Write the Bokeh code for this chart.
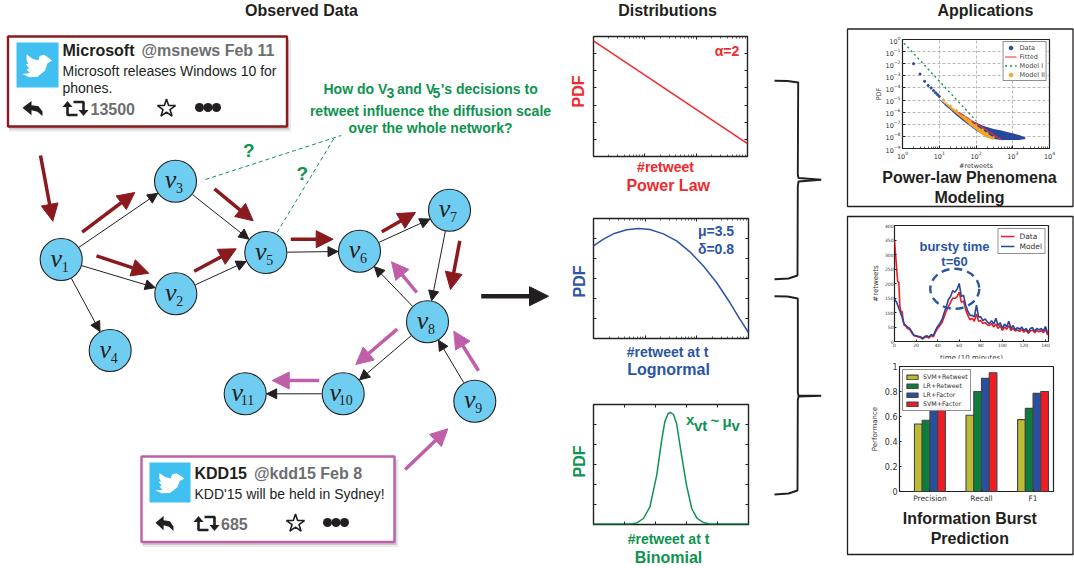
from math import pi, hypot
from bokeh.plotting import figure
from bokeh.models import (Range1d, ColumnDataSource, Arrow, NormalHead, Legend, LegendItem, LogAxis, LinearAxis,
                          FixedTicker, Column, LogTicker)
from bokeh.core.properties import value
from bokeh.embed import file_html
from bokeh.resources import INLINE

# ---------- chart data ----------
power_x = [1, 1000]
power_y = [0.56, 5.6e-7]
logn_x = [1, 1.56, 2.43, 4.4, 7.4, 12.4, 22.5, 40.6, 73.6, 133, 241, 436, 680, 1000]
logn_y = [0.043, 0.0926, 0.171, 0.271, 0.316, 0.282, 0.171, 0.0764, 0.0215, 0.0043, 6.3e-4, 6.3e-5, 9.3e-6, 2e-6]
bino_x = [0, 11.8, 14, 16.1, 18.2, 20.4, 22, 23, 24.1, 24.9, 25.8, 26.8, 28.4, 30, 31.7, 33.3, 35.4, 37.6, 50]
bino_y = [.003, .003, .008, .03, .088, .247, .422, .513, .555, .56, .55, .505, .347, .197, .08, .033, .01, .003, .003]

ll_points_x = [2, 3, 4, 5, 6, 7, 8, 9, 10]
ll_points_y = [1e-2, 1.4e-3, 3.5e-4, 1.6e-4, 1e-4, 6e-5, 4e-5, 2.8e-5, 2e-5]
ll_band_x = [10, 15, 20, 30, 50, 70, 100, 150, 200, 300, 500, 700, 1000, 1500, 2200]
ll_band_hi = [1.3e-5, 4.5e-6, 2.2e-6, 8e-7, 3e-7, 2e-7, 1.4e-7, 8e-8, 6e-8, 4e-8, 3e-8, 2.3e-8, 1.8e-8, 1.3e-8, 8e-9]
ll_band_lo = [1.1e-5, 3.2e-6, 1.6e-6, 5e-7, 1.5e-7, 7e-8, 3e-8, 1.4e-8, 8e-9, 6e-9, 5e-9, 5e-9, 5e-9, 5e-9, 6e-9]
model2_x = [13, 20, 30, 50, 70, 100, 150, 200, 300]
model2_hi = [1e-5, 3.2e-6, 1.3e-6, 4e-7, 2e-7, 8e-8, 3.5e-8, 1.8e-8, 8e-9]
model2_lo = [8e-6, 2e-6, 7e-7, 2e-7, 8e-8, 3.5e-8, 1.3e-8, 8e-9, 5e-9]
fitted_x = [34, 500]
fitted_y = [1e-6, 5e-9]
model1_x = [1.1, 100]
model1_y = [0.5, 2e-7]

ts_t = [0, 1, 2, 3, 4, 5, 6, 7, 8, 9] + list(range(10, 143, 2))
ts_data = [350, 300, 250, 205, 205, 120, 100, 105, 75, 55,
           55, 45, 42, 30, 20, 18, 16, 14, 8, 14, 16, 12, 20, 16, 32, 45, 55, 65, 85, 105, 120, 135, 150, 148, 155, 170,
           135, 140, 110, 90, 75, 80, 70, 95, 70, 72, 62, 65, 58, 55, 62, 50, 60, 45, 55, 38, 50, 42, 55, 38, 45, 36, 40,
           35, 42, 32, 40, 28, 36, 40, 30, 38, 33, 38, 30, 42, 22]
ts_model = [150, 140, 135, 125, 115, 105, 95, 85, 70, 60,
            58, 50, 46, 34, 22, 20, 18, 17, 10, 17, 20, 15, 24, 20, 38, 52, 62, 75, 98, 120, 145, 155, 175, 170, 180, 200,
            155, 160, 125, 105, 90, 90, 85, 125, 85, 85, 72, 78, 68, 62, 72, 60, 80, 55, 65, 45, 60, 50, 70, 45, 55, 40, 48,
            42, 50, 38, 45, 32, 45, 48, 35, 45, 40, 45, 36, 52, 28]

bar_labels = ["Precision", "Recall", "F1"]
bar_names = ["SVM+Retweet", "LR+Retweet", "LR+Factor", "SVM+Factor"]
bar_values = [[.54, .61, .575], [.57, .80, .665], [.72, .905, .785], [.75, .95, .80]]
bar_colors = ["#bdbb33", "#0b7e3e", "#2b4f9f", "#ee1c25"]

# graph
node_labels = ["1", "2", "3", "4", "5", "6", "7", "8", "9", "10", "11"]
node_x = [60.7, 175.3, 175, 109.7, 265.3, 359, 449, 427, 474.3, 342.7, 244.7]
node_y = [259, 293.3, 180.7, 350, 252, 250.7, 209.7, 321.3, 400.7, 393.3, 393.3]
edges = [(0, 2), (0, 1), (0, 3), (2, 4), (1, 4), (4, 5), (5, 6), (6, 7), (7, 5), (7, 9), (9, 10), (8, 7)]
red_arrows = [(40, 155, 52.3, 220.7), (81.7, 231.7, 134.3, 192), (96, 255.3, 148.3, 272.7), (193.7, 270.7, 235.7, 248.3),
              (214, 188.3, 252.7, 220.3), (290.3, 238.7, 332.7, 238.7), (381.3, 231.3, 415, 212), (459.3, 240.3, 450, 289)]
pink_arrows = [(416.3, 292, 391, 261.3), (396.7, 328.7, 355.3, 364), (318.7, 380, 271.7, 380), (478, 370.3, 453.3, 330.7),
               (404.7, 469, 447.3, 428.3)]

DARK = "#231f20"; RED = "#ee2a2e"; BLUE = "#2b55a4"; GREEN = "#0e9350"
WINE = "#8b1a1e"; PINK = "#c05ea8"; SKY = "#6fcdf2"; TW = "#3fc0f0"; GREY = "#6d6e71"
SANS = value("Liberation Sans")
SERIF = value("Liberation Serif")
VERA = "DejaVu Sans"
W, H = 1074, 568


def place(f, left, top, cursor):
    """Top margin puts the figure at an absolute page position inside the column."""
    f.margin = (top - cursor, 0, 0, left)
    f.frame_align = False
    return top + f.height


def style_axis(ax, labels=True, size="6px", width=1.0, tick=3):
    ax.major_tick_in = tick; ax.major_tick_out = 0
    ax.minor_tick_in = 2; ax.minor_tick_out = 0
    ax.axis_line_color = None
    ax.major_tick_line_color = "#222222"; ax.minor_tick_line_color = "#222222"
    ax.major_tick_line_width = width; ax.minor_tick_line_width = 0.7
    ax.major_label_standoff = 2
    if labels:
        ax.major_label_text_font_size = size
        ax.major_label_text_font = VERA
        ax.major_label_text_color = "#333333"
    else:
        ax.major_label_text_font_size = "1px"
        ax.major_label_text_color = None
        ax.major_label_standoff = 0


def dist_fig(xr, yr, xlog, ylog, fw, fh, xticks=None, yticks=None):
    f = figure(width=fw + 12, height=fh + 12, x_range=Range1d(*xr), y_range=Range1d(*yr),
               x_axis_type="log" if xlog else "linear", y_axis_type="log" if ylog else "linear",
               output_backend="svg", toolbar_location=None, min_border_left=6, min_border_right=6,
               min_border_top=6, min_border_bottom=6)
    f.grid.visible = False
    f.outline_line_color = "#222222"; f.outline_line_width = 1.4
    f.add_layout((LogAxis if ylog else LinearAxis)(), "right")
    f.add_layout((LogAxis if xlog else LinearAxis)(), "above")
    for ax in f.axis:
        style_axis(ax, labels=False, tick=3)
    for ax in f.xaxis:
        ax.ticker = LogTicker(num_minor_ticks=10, desired_num_ticks=3) if xlog else FixedTicker(ticks=xticks)
    for ax in f.yaxis:
        ax.ticker = LogTicker(num_minor_ticks=0, desired_num_ticks=8) if ylog else FixedTicker(ticks=yticks)
    return f


subs = []
# Distribution plots
d1 = dist_fig((1, 1000), (1e-7, 1), True, True, 154, 120)
d1.line(power_x, power_y, line_color=RED, line_width=1.5)
d2 = dist_fig((1, 1000), (1e-6, 1), True, True, 155, 120)
d2.line(logn_x, logn_y, line_color=BLUE, line_width=1.5)
d3 = dist_fig((0, 50), (0, 0.6), False, False, 155, 120, xticks=[10, 20, 30, 40], yticks=[.1, .2, .3, .4, .5])
d3.line(bino_x, bino_y, line_color=GREEN, line_width=1.5)

# Power-law log-log plot
pl = figure(width=222, height=142, x_range=Range1d(1, 10000), y_range=Range1d(1e-9, 1),
            x_axis_type="log", y_axis_type="log", output_backend="svg", toolbar_location=None,
            min_border_left=53, min_border_right=22, min_border_top=9, min_border_bottom=22)
pl.outline_line_color = "#222222"; pl.outline_line_width = 1.2
pl.grid.grid_line_color = "#999999"; pl.grid.grid_line_dash = "3 2"; pl.grid.grid_line_width = 0.7
pl.grid.minor_grid_line_color = None
for ax in pl.axis:
    style_axis(ax, size="6.5px")
pl.xaxis.ticker = LogTicker(num_minor_ticks=10, desired_num_ticks=5)
pl.yaxis.ticker = LogTicker(num_minor_ticks=0, desired_num_ticks=10)
pl.xaxis.axis_label = "#retweets"; pl.yaxis.axis_label = "PDF"
for ax in pl.axis:
    ax.axis_label_text_font = VERA; ax.axis_label_text_font_size = "6.5px"; ax.axis_label_text_font_style = "normal"
    ax.axis_label_text_color = "#333333"; ax.axis_label_standoff = 0
pl.varea(ll_band_x, ll_band_lo, ll_band_hi, fill_color="#27479b")
pl.varea(model2_x, model2_lo, model2_hi, fill_color="#f5a623")
r_data = pl.scatter(ll_points_x, ll_points_y, size=2.2, color="#27479b")
r_fit = pl.line(fitted_x, fitted_y, line_color="#e8303a", line_width=1.2)
r_m1 = pl.line(model1_x, model1_y, line_color=GREEN, line_width=1.4, line_dash="2 3")
r_m2 = pl.scatter(model2_x, model2_hi, size=2, color="#f5a623")
pl.add_layout(Legend(items=[LegendItem(label="Data", renderers=[r_data]), LegendItem(label="Fitted", renderers=[r_fit]),
                            LegendItem(label="Model I", renderers=[r_m1]), LegendItem(label="Model II", renderers=[r_m2])],
                     location="top_right", margin=2, padding=1, spacing=0, label_text_font=VERA, label_text_font_size="6.5px",
                     label_height=9, glyph_height=9, glyph_width=12, label_standoff=3, border_line_color="#222222",
                     border_line_width=1, label_text_color="#444444"), "center")

# Burst time series
ts = figure(width=222, height=146, x_range=Range1d(0, 142.8), y_range=Range1d(0, 400),
            output_backend="svg", toolbar_location=None,
            min_border_left=45, min_border_right=23, min_border_top=7, min_border_bottom=20)
ts.grid.visible = False
ts.outline_line_color = "#222222"; ts.outline_line_width = 1.2
for ax in ts.axis:
    style_axis(ax, size="4.5px", tick=2)
    ax.major_label_standoff = 1
ts.xaxis.ticker = FixedTicker(ticks=list(range(0, 141, 20)))
ts.yaxis.ticker = FixedTicker(ticks=list(range(0, 401, 50)))
ts.xaxis.axis_label = "time (10 minutes)"; ts.yaxis.axis_label = "#retweets"
for ax in ts.axis:
    ax.axis_label_text_font = VERA; ax.axis_label_text_font_size = "7px"; ax.axis_label_text_font_style = "normal"
    ax.axis_label_text_color = "#333333"; ax.axis_label_standoff = 4
ts.yaxis.axis_label_standoff = 2
r_td = ts.line(ts_t, ts_data, line_color="#ed1c24", line_width=1.6)
r_tm = ts.line(ts_t, ts_model, line_color="#27479b", line_width=1.6)
ts.add_layout(Legend(items=[LegendItem(label="Data", renderers=[r_td]), LegendItem(label="Model", renderers=[r_tm])],
                     location="top_right", margin=3, padding=2, spacing=0, label_text_font=VERA, label_text_font_size="7.5px",
                     label_height=10, glyph_height=10, glyph_width=14, label_standoff=5, border_line_color="#222222",
                     border_line_width=1, label_text_color="#333333"), "center")

# Bars
bp = figure(width=222, height=147, x_range=Range1d(-0.59, 2.397), y_range=Range1d(0, 1),
            output_backend="svg", toolbar_location=None,
            min_border_left=50, min_border_right=18, min_border_top=8, min_border_bottom=13)
bp.grid.visible = False
bp.outline_line_color = "#222222"; bp.outline_line_width = 1.2
for ax in bp.axis:
    style_axis(ax, size="7.5px", tick=2)
bp.yaxis.major_label_text_font_size = "8px"
bp.xaxis.ticker = FixedTicker(ticks=[0, 1, 2])
bp.xaxis.major_label_overrides = {i: s for i, s in enumerate(bar_labels)}
bp.yaxis.ticker = FixedTicker(ticks=[0, .2, .4, .6, .8, 1.0])
bp.yaxis.axis_label = "Performance"
bp.yaxis.axis_label_text_font = VERA; bp.yaxis.axis_label_text_font_size = "7px"
bp.yaxis.axis_label_text_font_style = "normal"; bp.yaxis.axis_label_text_color = "#333333"; bp.yaxis.axis_label_standoff = 3
items = []
for i, name in enumerate(bar_names):
    r = bp.vbar(x=[k + (i - 1.5) * 0.15 for k in range(3)], top=bar_values[i], width=0.15, fill_color=bar_colors[i],
                line_color="#444444", line_width=1.1)
    items.append(LegendItem(label=name, renderers=[r]))
bp.add_layout(Legend(items=items, location="top_left", margin=3, padding=2, spacing=0, label_text_font=VERA,
                     label_text_font_size="6.3px", label_height=9, glyph_height=6, glyph_width=14, label_standoff=4,
                     border_line_color="#222222", border_line_width=1, label_text_color="#333333"), "center")

# ---------- overlay in page pixels ----------
p = figure(width=W, height=H, x_range=Range1d(0, W), y_range=Range1d(H, 0), x_axis_type=None, y_axis_type=None,
           output_backend="svg", toolbar_location=None, min_border=0,
           background_fill_color=None, border_fill_color=None, outline_line_color=None)
p.grid.visible = False


def t(x, y, s, size=14, color=DARK, bold=True, align="center", base="middle", angle=0, font=SANS, italic=False):
    style = "bold" if bold else ("italic" if italic else "normal")
    p.text([x], [y], text=[s], text_font=font, text_font_size=f"{size}px", text_color=color, text_font_style=style,
           text_align=align, text_baseline=base, angle=angle)


def arrows(rows, color, lw, head):
    src = ColumnDataSource(dict(xs=[r[0] for r in rows], ys=[r[1] for r in rows], xe=[r[2] for r in rows], ye=[r[3] for r in rows]))
    p.add_layout(Arrow(end=NormalHead(size=head, fill_color=color, line_color=color, line_width=1), line_color=color,
                       line_width=lw, x_start="xs", y_start="ys", x_end="xe", y_end="ye", source=src))


# headers
t(301, 10, "Observed Data", 16); t(667, 10, "Distributions", 16); t(985, 10, "Applications", 16)

# question
t(323, 88, "How do V", 14, GREEN, align="left"); t(386, 92.5, "3", 14, GREEN, align="left")
t(396.5, 88, "and V", 14, GREEN, align="left"); t(432, 92.5, "5", 14, GREEN, align="left")
t(440.5, 88, "'s decisions to", 14, GREEN, align="left")
t(430, 110, "retweet influence the diffusion scale", 14, GREEN)
t(430, 127.5, "over the whole network?", 14, GREEN)
p.line([205, 340.7], [179, 135], line_color=GREEN, line_width=1, line_dash="4 3")
p.line([276.7, 333.3], [231.7, 138.3], line_color=GREEN, line_width=1, line_dash="4 3")
t(248.3, 150, "?", 19, GREEN); t(301.7, 172.5, "?", 19, GREEN)

# edges
rows = []
R = 21.5
for a, b in edges:
    dx, dy = node_x[b] - node_x[a], node_y[b] - node_y[a]
    d = hypot(dx, dy)
    rows.append((node_x[a] + dx / d * R, node_y[a] + dy / d * R, node_x[b] - dx / d * R, node_y[b] - dy / d * R))
arrows(rows, "#231f20", 1.0, 10)
arrows(red_arrows, WINE, 3.5, 17)
arrows(pink_arrows, PINK, 3.5, 17)
arrows([(480.7, 295.7, 548, 295.7)], "#231f20", 4.5, 19)

p.circle(node_x, node_y, radius=21, fill_color=SKY, line_color="#231f20", line_width=1.1)
for x, y, lab in zip(node_x, node_y, node_labels):
    single = len(lab) == 1
    t(x - 5 if single else x - 8, y - 1.5, "v", 26, "#231f20", bold=False, italic=True, font=SERIF)
    t(x + 0.5 if single else x - 4.5, y + 7 if single else y + 6.5, lab, 14, "#231f20", bold=False, align="left", font=SERIF)

BIRD = [(.85, .40), (.66, .27), (.55, .30), (.52, .40), (.38, .36), (.24, .26), (.24, .40), (.28, .48), (.22, .48), (.30, .58),
        (.24, .60), (.32, .68), (.14, .70), (.30, .77), (.50, .76), (.68, .62), (.74, .46)]
REPLY = [(0, .45), (.45, 0), (.45, .28), (.8, .35), (1, .7), (1, 1), (.75, .72), (.45, .62), (.45, .95)]


def rect(x0, y0, x1, y1, **kw):
    p.quad(left=[x0], right=[x1], top=[y0], bottom=[y1], **kw)


def tweet(x0, y0, x1, y1, border, bx0, by0, bx1, by1, name, handle, hx, tx, ty, lines, iy, rx, rw, rtx, cnt, cx, sx, dx):
    for off, alpha in ((5, .12), (3, .22)):
        rect(x0 + 1, y0 + 3, x1 + off - 1, y1 + off, fill_color="#555555", fill_alpha=alpha, line_color=None)
    rect(x0, y0, x1, y1, fill_color="white", line_color=border, line_width=2.4)
    rect(bx0, by0, bx1, by1, fill_color=TW, line_color=None)
    s = bx1 - bx0
    p.patch([bx0 + a * s for a, _ in BIRD], [by0 + b * (by1 - by0) for _, b in BIRD], fill_color="white", line_color=None)
    t(tx, ty, name, 16, "#231f20", align="left")
    t(hx, ty, handle, 16, GREY, align="left")
    for i, (ln, ly) in enumerate(lines):
        t(tx, ly, ln, 14, "#231f20", bold=False, align="left")
    # reply
    p.patch([rx + a * rw for a, _ in REPLY], [iy - 7.5 + b * 15 for _, b in REPLY], fill_color="#231f20", line_color=None)
    # retweet
    w, h = 25, 15
    x, y = rtx, iy - 7.5
    p.multi_line([[x + 4, x + 4, x + w - 11], [x + w - 5, x + w - 5, x + 10]],
                 [[y + 5, y + h - 1, y + h - 1], [y + h - 5, y + 1, y + 1]], line_color="#231f20", line_width=2.6)
    p.patch([x - 1, x + 9, x + 4], [y + 6, y + 6, y], fill_color="#231f20", line_color=None)
    p.patch([x + w - 10, x + w, x + w - 5], [y + h - 6, y + h - 6, y + h], fill_color="#231f20", line_color=None)
    t(cx, iy, cnt, 16, GREY, align="left")
    p.scatter([sx], [iy], marker="star", size=19, fill_color=None, line_color="#231f20", line_width=1.6)
    p.circle([dx, dx + 8.5, dx + 17], [iy - 1, iy - 1, iy - 1], radius=4.5, fill_color="#231f20", line_color=None)


tweet(7.5, 36, 286.5, 126, WINE, 16, 42, 58, 87, "Microsoft", "@msnews Feb 11", 141, 62, 50,
      [("Microsoft releases Windows 10 for", 70.5), ("phones.", 87)], 108, 22, 20, 63, "13500", 90, 166, 199)
tweet(141, 456, 394, 541.5, PINK, 149, 462, 190, 502, "KDD15", "@kdd15 Feb 8", 253.5, 194, 473,
      [("KDD'15 will be held in Sydney!", 493.5)], 523, 155, 18, 194, "685", 220.5, 295, 327)

# distribution labels
t(578, 91, "PDF", 16, RED, angle=pi / 2); t(665, 166, "#retweet", 14, RED); t(667.7, 185, "Power Law", 16, RED)
t(726.5, 50.7, "\u03b1=2", 14, RED)
t(579, 281, "PDF", 16, BLUE, angle=pi / 2); t(667, 351, "#retweet at t", 14, BLUE); t(668, 369, "Lognormal", 16, BLUE)
t(715.5, 230, "\u03bc=3.5", 14, BLUE); t(715.5, 248, "\u03b4=0.8", 14, BLUE)
t(579, 461, "PDF", 16, GREEN, angle=pi / 2); t(668, 538.5, "#retweet at t", 14, GREEN); t(668, 557, "Binomial", 16, GREEN)
t(685.5, 419, "x", 15, GREEN, align="left"); t(693.5, 424.5, "vt", 15, GREEN, align="left")
t(710, 420, "~", 15, GREEN, align="left"); t(722, 421, "\u03bc", 15, GREEN, align="left"); t(731, 425, "v", 15, GREEN, align="left")

# braces
p.line([774, 787, 797.7, 797.3, 798, 820.7, 798, 797.3, 797, 788, 774],
       [80.3, 80.5, 82, 174, 177.5, 179.3, 181, 186, 275, 278, 278.7], line_color="#231f20", line_width=1.9)
p.line([774, 787, 797.3, 797.3, 798, 820.7, 798, 797.3, 797, 788, 774],
       [295.7, 296, 298, 392, 395, 395.3, 396, 400, 490, 493, 494], line_color="#231f20", line_width=1.9)

# application panels
rect(847, 28.5, 1072.5, 206, fill_color=None, line_color="#231f20", line_width=1.3)
rect(847, 216, 1072.5, 554, fill_color=None, line_color="#231f20", line_width=1.3)
t(969, 177, "Power-law Phenomena", 16, "#231f20"); t(969, 197, "Modeling", 16, "#231f20")
t(969.3, 518, "Information Burst", 16, "#231f20"); t(969.3, 538, "Prediction", 16, "#231f20")
t(954, 245.7, "bursty time", 13, BLUE); t(954, 260.7, "t=60", 13, BLUE)
p.ellipse([954.3], [288.3], width=49, height=40, fill_color=None, line_color=BLUE, line_width=2.4, line_dash="8 5")

# ---------- stacking ----------
cursor = 0
for f, left, top in ((d1, 587, 30), (d2, 587, 212), (d3, 587, 398), (pl, 849, 30), (ts, 849, 218), (bp, 849, 358)):
    cursor = place(f, left, top, cursor)
    subs.append(f)
cursor = place(p, 0, 0, cursor)
root = Column(children=subs + [p], spacing=0)
open("out.html", "w").write(file_html(root, INLINE))
